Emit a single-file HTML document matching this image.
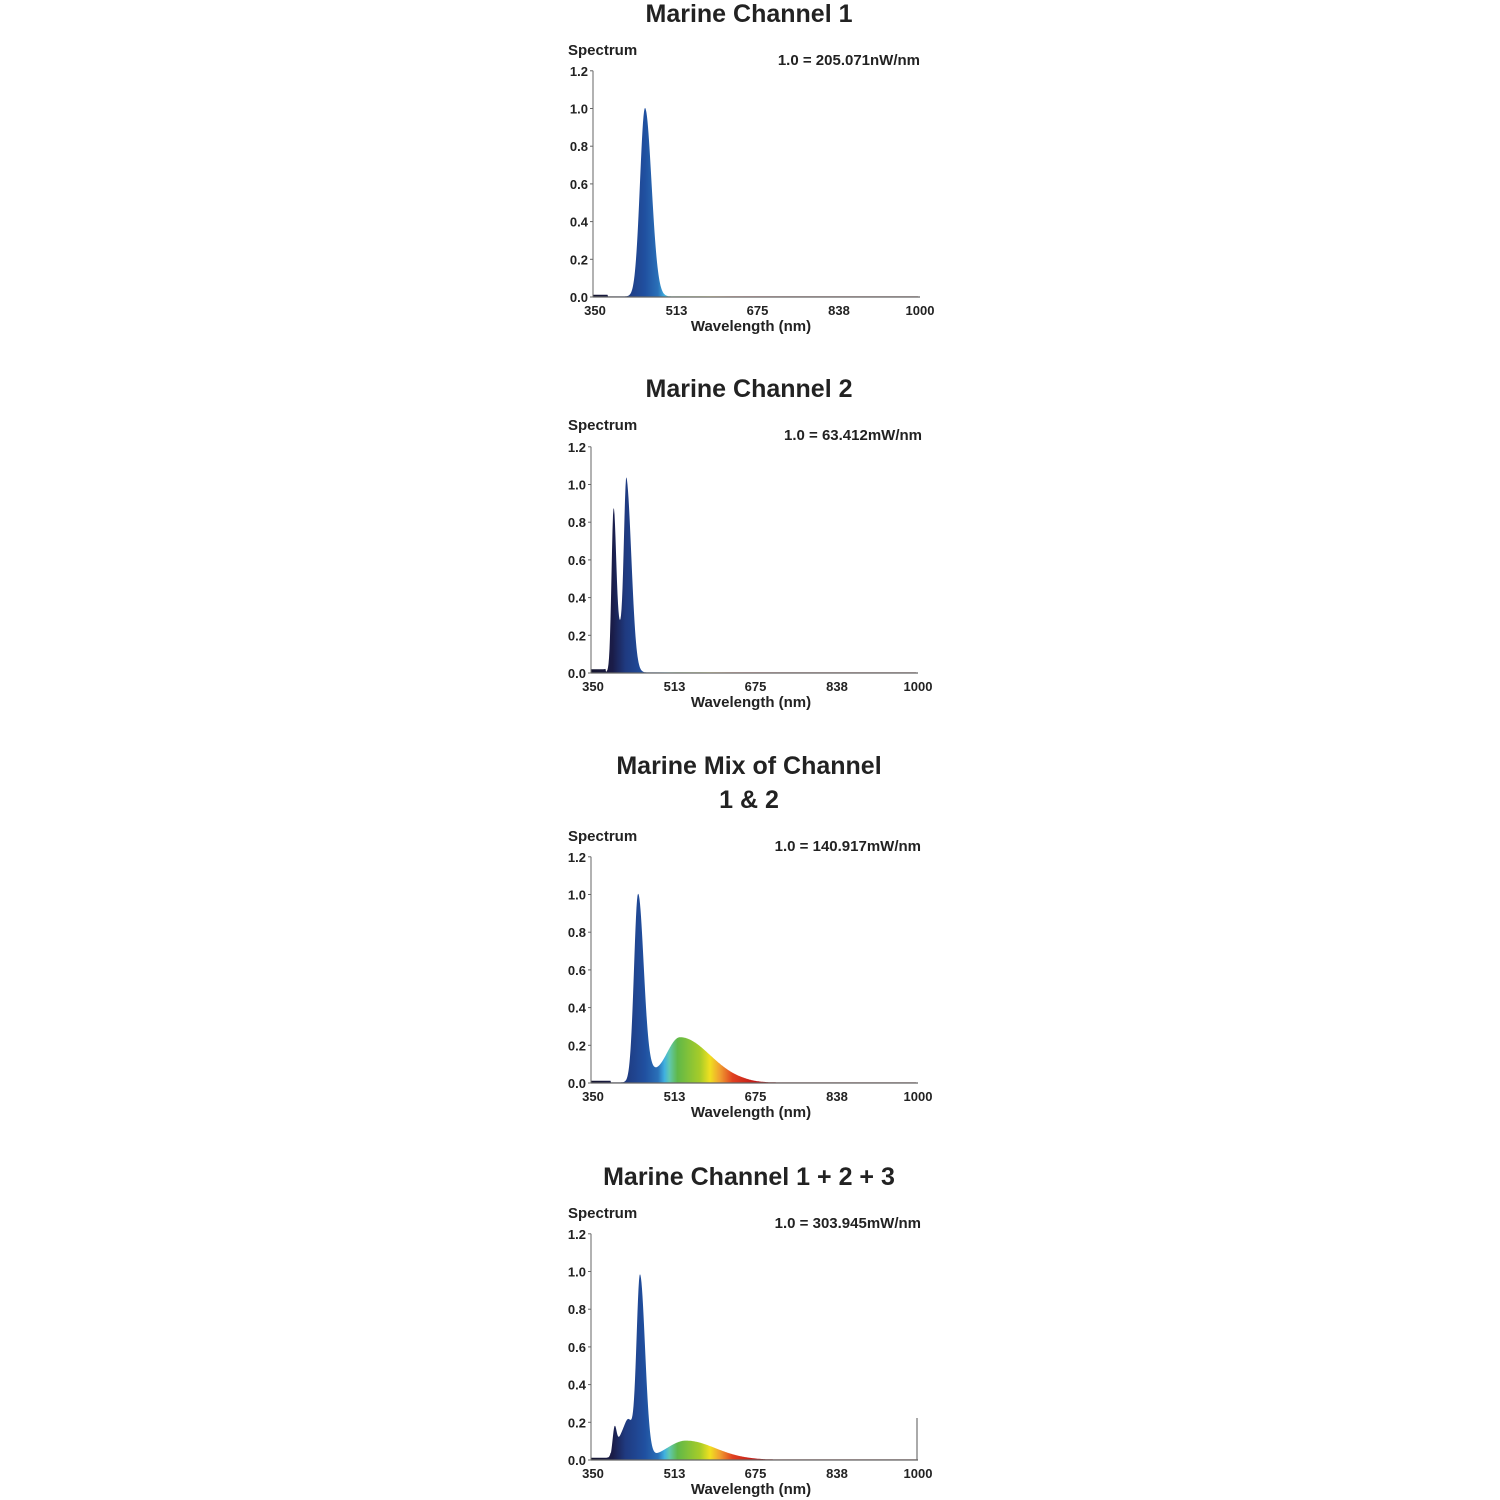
<!DOCTYPE html>
<html><head><meta charset="utf-8"><style>
body{margin:0;background:#fff;width:1500px;height:1500px;overflow:hidden}
svg{position:absolute;left:0;top:0}
text{font-family:"Liberation Sans",sans-serif;fill:#222}
.t{font-size:25px;font-weight:bold;text-anchor:middle}
.s{font-size:15px;font-weight:bold}
.k{font-size:13px;font-weight:bold}
</style></head><body>
<svg id="g" width="1500" height="1500" xmlns="http://www.w3.org/2000/svg">
<defs>
<linearGradient id="sp" gradientUnits="userSpaceOnUse" x1="593" x2="918" y1="0" y2="0">
<stop offset="0" stop-color="#151530"/>
<stop offset="0.06" stop-color="#1a1c48"/>
<stop offset="0.1" stop-color="#1f3a80"/>
<stop offset="0.16" stop-color="#2050a0"/>
<stop offset="0.2" stop-color="#2a70b8"/>
<stop offset="0.22" stop-color="#40b0e0"/>
<stop offset="0.235" stop-color="#60c8b0"/>
<stop offset="0.26" stop-color="#60b848"/>
<stop offset="0.33" stop-color="#a8cc28"/>
<stop offset="0.36" stop-color="#f0e020"/>
<stop offset="0.39" stop-color="#f0a030"/>
<stop offset="0.43" stop-color="#e04020"/>
<stop offset="0.5" stop-color="#c01818"/>
<stop offset="0.6" stop-color="#801010"/>
<stop offset="1" stop-color="#601010"/>
</linearGradient>
</defs>
</svg>
<script>
var svg=document.getElementById('g'),NS='http://www.w3.org/2000/svg';
function el(t,a,txt){var e=document.createElementNS(NS,t);for(var k in a)e.setAttribute(k,a[k]);if(txt!==undefined)e.textContent=txt;svg.appendChild(e);return e;}
function G(l,m,s){return Math.exp(-0.5*Math.pow((l-m)/s,2));}
var charts=[
{title:["Marine Channel 1"],ty:[22],y0:297,ax:593,note:"1.0 = 205.071nW/nm",nx:920,ny:65,sy:55,
 f:function(l){return (l<380?0.012:0.003)+G(l,454,l<454?10:13);}},
{title:["Marine Channel 2"],ty:[397],y0:673,ax:591,note:"1.0 = 63.412mW/nm",nx:922,ny:440,sy:430,
 f:function(l){return (l<380?0.02:0.003)+0.78*G(l,395,l<395?4:5)+0.97*G(l,421,l<421?5:10)+0.22*G(l,407,9);}},
{title:["Marine Mix of Channel","1 & 2"],ty:[774,808],y0:1083,ax:591,note:"1.0 = 140.917mW/nm",nx:921,ny:851,sy:841,
 f:function(l){return (l<390?0.012:0.003)+0.97*G(l,444,l<444?8:11)+0.24*G(l,528,l<528?28:60)*(l>650?G(l,650,45):1)+0.05*G(l,460,15);}},
{title:["Marine Channel 1 + 2 + 3"],ty:[1185],y0:1460,ax:591,note:"1.0 = 303.945mW/nm",nx:921,ny:1228,sy:1218,
 f:function(l){return (l<390?0.012:0.003)+0.14*G(l,397,4)+0.09*G(l,408,8)+0.2*G(l,425,9)+0.97*G(l,448,l<448?7:10)+0.1*G(l,540,l<540?38:58)*(l>660?G(l,660,40):1);}}
];
charts.forEach(function(c){
 var py=37.7/0.2;
 c.title.forEach(function(t,i){el('text',{x:749,y:c.ty[i],'class':'t'},t);});
 el('text',{x:568,y:c.sy,'class':'s'},"Spectrum");
 el('text',{x:c.nx,y:c.ny,'class':'s','text-anchor':'end'},c.note);
 var d='M'+c.ax+','+c.y0;
 for(var l=350;l<=1000;l+=1){var x=c.ax+(l-350)*0.5;var v=c.f(l);d+=' L'+x.toFixed(1)+','+(c.y0-v*py).toFixed(1);}
 d+=' L'+(c.ax+325)+','+c.y0+' Z';
 el('path',{d:d,fill:'url(#sp)'});
 el('line',{x1:c.ax,y1:c.y0-1.2*py,x2:c.ax,y2:c.y0,stroke:'#666','stroke-width':1});
 el('line',{x1:c.ax,y1:c.y0,x2:c.ax+327,y2:c.y0,stroke:'#666','stroke-width':1.2});
 ["0.0","0.2","0.4","0.6","0.8","1.0","1.2"].forEach(function(t,i){var y=c.y0-i*0.2*py;
  el('text',{x:c.ax-5,y:y+5,'class':'k','text-anchor':'end'},t);
  el('line',{x1:c.ax-3,y1:y,x2:c.ax,y2:y,stroke:'#666'});});
 [[350,"350"],[513,"513"],[675,"675"],[838,"838"],[1000,"1000"]].forEach(function(p){
  el('text',{x:c.ax+2+(p[0]-350)*0.5,y:c.y0+18,'class':'k','text-anchor':'middle'},p[1]);});
 el('text',{x:751,y:c.y0+34,'class':'s','text-anchor':'middle'},"Wavelength (nm)");
 if(c.title[0]=="Marine Channel 1 + 2 + 3")el('line',{x1:917,y1:1418,x2:917,y2:1460,stroke:'#555'});
});
</script>
</body></html>
